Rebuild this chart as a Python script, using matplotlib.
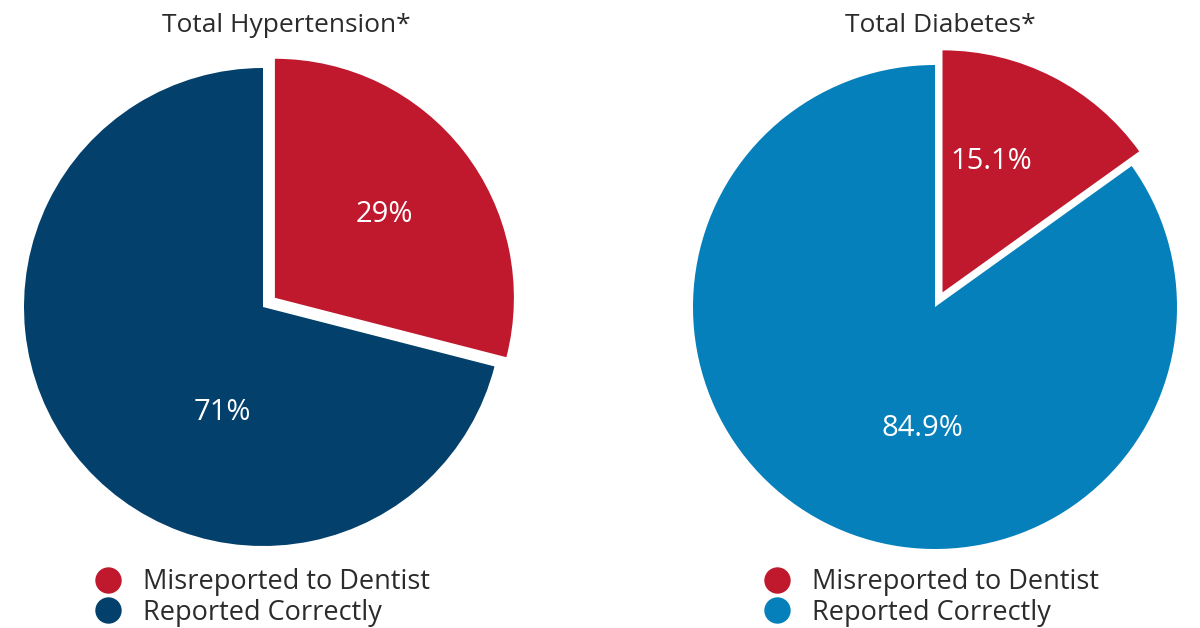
import matplotlib.pyplot as plt
from matplotlib.lines import Line2D

categories = ["Misreported to Dentist", "Reported Correctly"]
titles = ["Total Hypertension*", "Total Diabetes*"]
hypertension = [29, 71]
diabetes = [15.1, 84.9]
pct_labels = [["29%", "71%"], ["15.1%", "84.9%"]]

RED = "#C0192E"
NAVY = "#03406B"
BLUE = "#0580BA"
TEXT = "#2B2B2B"

plt.rcParams["font.family"] = ["Open Sans", "DejaVu Sans"]

W, H = 1200, 628
fig = plt.figure(figsize=(W / 100, H / 100), dpi=100)
fig.patch.set_facecolor("white")

# (center x px, center y px from bottom, radius px), explode, title x, legend left
pies = [
    (hypertension, (263, 321, 239), [RED, NAVY], 0.063, 286, 92),
    (diabetes, (935, 321, 242), [RED, BLUE], 0.068, 940, 761),
]
# label offsets in radius units, relative to each wedge's (exploded) center
label_pos = [[(0.46, 0.35), (-0.17, -0.44)], [(0.20, 0.54), (-0.05, -0.50)]]

L = 1.25
for i, (vals, (cx, cy, r), colors, ex, tx, lx0) in enumerate(pies):
    half = L * r
    ax = fig.add_axes([(cx - half) / W, (cy - half) / H, 2 * half / W, 2 * half / H])
    wedges, _ = ax.pie(vals, colors=colors, startangle=90, counterclock=False,
                       explode=[ex, 0], wedgeprops=dict(linewidth=0))
    ax.set_xlim(-L, L)
    ax.set_ylim(-L, L)
    ax.set_aspect("equal")
    ax.axis("off")
    for j, w in enumerate(wedges):
        ox, oy = w.center
        lx, ly = label_pos[i][j]
        ax.text(ox + lx, oy + ly, pct_labels[i][j], color="white", fontsize=21,
                ha="center", va="center")

    fig.text(tx / W, 1 - 26 / H, titles[i], color=TEXT,
             fontsize=19, ha="center", va="center")

    handles = [Line2D([], [], marker="o", linestyle="none", markersize=19,
                      markerfacecolor=c, markeredgewidth=0) for c in colors]
    fig.legend(handles, categories, loc="upper left",
               bbox_to_anchor=(lx0 / W, 1 - 568 / H),
               frameon=False, fontsize=19.5, labelcolor=TEXT, handletextpad=0.7,
               labelspacing=0.1, borderpad=0, borderaxespad=0, handlelength=1.2)

fig.savefig("out.png", dpi=100, facecolor="white")
